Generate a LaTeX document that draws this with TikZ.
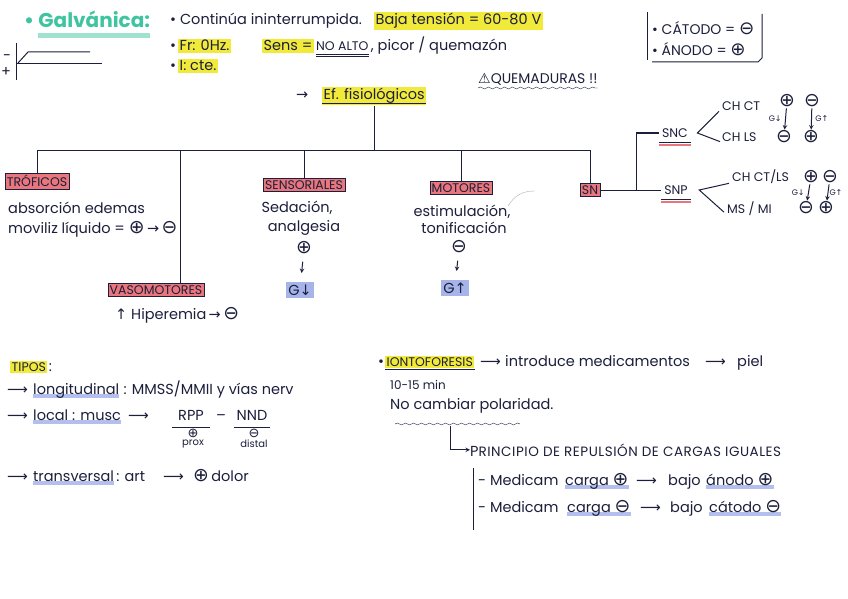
\documentclass[tikz,border=0pt]{standalone}
\usepackage{fontspec}
\setmainfont{Poppins}
\newfontfamily\symf{DejaVu Sans}
\newfontfamily\circf[Scale=1.3]{DejaVu Sans}
\usetikzlibrary{positioning,backgrounds,decorations.pathmorphing}
\definecolor{ink}{HTML}{1B1F3B}
\definecolor{yel}{HTML}{F2EA3A}
\definecolor{rosa}{HTML}{E8767C}
\definecolor{azul}{HTML}{A7B4EA}
\definecolor{verde}{HTML}{3FC4A0}
\newcommand\letra{\fontsize{14.5}{16}\selectfont}
\newcommand\chica{\fontsize{12.5}{14}\selectfont}
\newcommand\titulo{\fontsize{20}{22}\selectfont\bfseries}
\newcommand\mas{{\circf ⊕}}
\newcommand\menos{{\circf ⊖}}
\newcommand\flecha{{\symf ⟶}}
\newcommand\arriba{{\symf ↑}}
\newcommand\abajo{{\symf ↓}}
\begin{document}
\begin{tikzpicture}[x=1pt,y=-1pt,>=stealth,
    every node/.style={text=ink,font=\letra},
    txt/.style={anchor=base west,inner sep=0pt},
    amarillo/.style={fill=yel,inner sep=1.5pt},
    caja/.style={draw=ink,fill=rosa,inner sep=2pt,font=\chica},
    gbox/.style={fill=azul,inner sep=2.5pt},
    rama/.style={draw=ink,line width=1pt},
    subr/.style={azul,line width=4.5pt,opacity=.85},
    ola/.style={ink,decorate,decoration={snake,amplitude=1pt,segment length=8pt}}]
\begin{scope}[on background layer]
\fill[white] (0,0) rectangle (848,599);
\end{scope}
\useasboundingbox (0,0) rectangle (848,599);

% encabezado
\node[txt,font=\titulo,text=verde] (galv) at (24,28) {• Galvánica:};
\draw[verde!70,line width=5pt,opacity=.7] (38,36) -- (150,36);
\node[txt] (cont) at (170,25) {• Continúa ininterrumpida.};
\node[txt,amarillo] (baja) at (374,25) {Baja tensión = 60-80 V};
\node[txt] (b1) at (170,51) {•};
\node[txt,amarillo] (fr) at (178,51) {Fr: 0Hz.};
\node[txt,amarillo] (sensa) at (262,51) {Sens =};
\node[txt,font=\chica] (noalto) at (316,51) {NO ALTO};
\draw[ink,line width=.7pt] ([yshift=-3pt]noalto.base west) -- ([yshift=-3pt]noalto.base east);
\draw[ink,line width=.7pt] ([yshift=-5.5pt]noalto.base west) -- ([yshift=-5.5pt]noalto.base east);
\node[inner sep=0pt,base right=2pt of noalto] (picor) {, picor / quemazón};
\node[txt] (b2) at (170,71) {•};
\node[txt,amarillo] (cte) at (178,71) {I: cte.};

% signo de la corriente
\node (sgm) at (7,58) {-};
\node (sgp) at (6,72) {+};
\draw[rama] (16,43) -- (16,80);
\draw[rama] (18,63) -- (28,52) -- (90,52);
\draw[rama] (17,64) -- (102,64);

% leyenda
\node[txt,font=\fontsize{14}{16}\selectfont] (cat) at (652,35) {• CÁTODO = \menos};
\node[txt,font=\fontsize{14}{16}\selectfont] (ano) at (652,56) {• ÁNODO = \mas};
\draw[rama] (647,12) -- (647,60);
\draw[rama] (762,14) -- (762,58) -- (758,62) -- (652,62);

\node[txt,font=\fontsize{14}{16}\selectfont] (quem) at (478,84) {{\symf ⚠}QUEMADURAS !!};
\draw[ola] ([yshift=-4pt]quem.base west) -- ([yshift=-4pt]quem.base east);

% efectos fisiologicos
\node[txt] (fl) at (296,100) {{\symf →}};
\node[txt,amarillo] (efis) at (322,100) {Ef. fisiológicos};
\draw[ink] ([yshift=-3pt]efis.base west) -- ([yshift=-3pt]efis.base east);

\node[caja] (tro) at (37,181) {TRÓFICOS};
\node[caja] (vaso) at (156,290) {VASOMOTORES};
\node[caja] (senso) at (304,185) {SENSORIALES};
\node[caja] (mot) at (461,188) {MOTORES};
\node[caja] (sn) at (590,190) {SN};

\coordinate (h) at (0,150);
\draw[rama] (efis.south) -- (efis.south |- h);
\draw[rama] (tro.north) -- (tro.north |- h) -- (sn.north |- h) -- (sn.north);
\draw[rama] ([xshift=24pt]vaso.north) -- ([xshift=24pt]vaso.north |- h);
\foreach \n in {senso,mot}
    \draw[rama] (\n.north) -- (\n.north |- h);

\node[txt] (abs) at (8,213) {absorción edemas};
\node[txt] (movi) at (8,233) {moviliz líquido = \mas\,{\symf →}\,\menos};
\node[txt] (hip) at (115,319) {\arriba\ Hiperemia\,{\symf →}\,\menos};

\node[anchor=base] (seda) at (297,212) {Sedación,};
\node[anchor=base] (anal) at (304,231) {analgesia};
\node (sp) at (304,248) {\mas};
\node[gbox] (gs) at (300,290) {G\abajo};
\draw[->,rama,shorten <=4pt,shorten >=9pt] (sp) -- (gs);

\node[anchor=base] (esti) at (462,216) {estimulación,};
\node[anchor=base] (toni) at (464,233) {tonificación};
\draw[gray!60] (508,206) to[bend left=30] (535,191);
\node (mm) at (459,247) {\menos};
\node[gbox] (gm) at (455,288) {G\arriba};
\draw[->,rama,shorten <=4pt,shorten >=9pt] (mm) -- (gm);

% sistema nervioso
\node[font=\chica] (snc) at (675,133) {SNC};
\node[font=\chica] (snp) at (676,190) {SNP};
\coordinate (sj) at (636,190);
\draw[rama] (sn.east) -- (snp.west);
\draw[rama] (sj) |- (snc.west);
\foreach \s in {snc,snp} {
    \draw[ink] ([yshift=-1pt]\s.south west) -- ([yshift=-1pt]\s.south east);
    \draw[rosa,line width=2.5pt] ([yshift=-4pt]\s.south west) -- ([yshift=-4pt]\s.south east);
}
\node[txt,font=\chica] (chct) at (722,111) {CH CT};
\node[txt,font=\chica] (chls) at (722,142) {CH LS};
\draw[rama] ([xshift=-3pt]chct.south west) -- ([xshift=6pt]snc.east) -- ([xshift=-2pt,yshift=-4pt]chls.west);
\node[txt,font=\chica] (chctls) at (732,181) {CH CT/LS};
\node[txt,font=\chica] (msmi) at (727,213) {MS / MI};
\draw[rama] ([xshift=-3pt]chctls.south west) -- ([xshift=8pt]snp.east) -- ([xshift=-3pt,yshift=-4pt]msmi.west);

\node[inner sep=1pt] (p1) at (787,101) {\mas};
\node[inner sep=1pt] (m1) at (784,137) {\menos};
\node[inner sep=1pt] (m2) at (812,101) {\menos};
\node[inner sep=1pt] (p2) at (811,137) {\mas};
\draw[->,rama] (p1) -- (m1) node[midway,left,font=\footnotesize] {G\abajo};
\draw[->,rama] (m2) -- (p2) node[midway,right,font=\footnotesize] {G\arriba};
\node[inner sep=1pt] (p3) at (811,177) {\mas};
\node[inner sep=1pt] (m3) at (806,208) {\menos};
\node[inner sep=1pt] (m4) at (830,177) {\menos};
\node[inner sep=1pt] (p4) at (826,208) {\mas};
\draw[->,rama] (p3) -- (m3) node[midway,left,font=\footnotesize] {G\abajo};
\draw[->,rama] (m4) -- (p4) node[midway,right,font=\footnotesize,inner sep=1pt] {G\arriba};

% tipos
\node[txt,amarillo,font=\chica] (tipos) at (10,371) {TIPOS};
\node[inner sep=0pt,base right=1pt of tipos] (dp) {:};
\node[txt] (f1) at (7,394) {\flecha};
\node[txt] (longi) at (33,394) {longitudinal};
\node[inner sep=0pt,base right=4pt of longi] (mmss) {: MMSS/MMII y vías nerv};
\node[txt] (f2) at (7,420) {\flecha};
\node[txt] (loc) at (33,420) {local : musc};
\node[txt] (f3) at (128,420) {\flecha};
\node[anchor=base] (rpp) at (191,420) {RPP};
\node[anchor=base] (guion) at (221,420) {–};
\node[anchor=base] (nnd) at (252,420) {NND};
\draw[rama] (172,427) -- (210,427);
\draw[rama] (234,427) -- (270,427);
\node[font=\fontsize{10}{10}\selectfont,inner sep=0pt] (pxs) at (193,433) {\mas};
\node[font=\fontsize{10}{10}\selectfont,inner sep=0pt,below=2.5pt of pxs] (prox) {prox};
\node[font=\fontsize{10}{10}\selectfont,inner sep=0pt] (dsm) at (254,433) {\menos};
\node[font=\fontsize{10}{10}\selectfont,inner sep=0pt,below=2.5pt of dsm] (dist) {distal};
\node[txt] (f4) at (7,481) {\flecha};
\node[txt] (trans) at (33,481) {transversal};
\node[inner sep=0pt,base right=2pt of trans] (art) {: art};
\node[txt] (f5) at (163,481) {\flecha};
\node[txt] (dolor) at (193,481) {\mas\,dolor};

% iontoforesis
\node[txt] (b3) at (378,366) {•};
\node[txt,amarillo,font=\chica] (ionto) at (385,366) {IONTOFORESIS};
\draw[ink] ([yshift=-3pt]ionto.base west) -- ([yshift=-3pt]ionto.base east);
\node[txt] (f6) at (480,366) {\flecha};
\node[txt] (intro) at (505,366) {introduce medicamentos};
\node[txt] (f7) at (705,366) {\flecha};
\node[txt] (piel) at (737,366) {piel};
\node[txt,font=\fontsize{12}{14}\selectfont] (min) at (390,389) {10-15 min};
\node[txt] (pol) at (390,409) {No cambiar polaridad.};
\draw[ola] (395,424) -- (520,424);
\coordinate (ola0) at (450,426);
\node[txt,font=\fontsize{13.5}{15}\selectfont\addfontfeature{LetterSpace=4}] (prin) at (470,456) {{\letra P}RINCIPIO DE REPULSIÓN DE CARGAS IGUALES};
\draw[rama,->] (ola0) |- (prin.west);
\draw[rama] (473,468) -- (473,530);
\node[txt] (med1) at (478,485) {- Medicam};
\node[txt] (car1) at (565,485) {carga \mas};
\node[txt] (f8) at (636,485) {\flecha};
\node[txt] (bajo1) at (668,485) {bajo};
\node[txt] (ano1) at (706,485) {ánodo \mas};
\node[txt] (med2) at (478,512) {- Medicam};
\node[txt] (car2) at (567,512) {carga \menos};
\node[txt] (f9) at (640,512) {\flecha};
\node[txt] (bajo2) at (670,512) {bajo};
\node[txt] (cat2) at (709,512) {cátodo \menos};

\begin{scope}[on background layer]
\foreach \t in {longi,loc,trans,car1,ano1,car2,cat2}
    \draw[subr] ([yshift=-2pt]\t.base west) -- ([yshift=-2pt]\t.base east);
\end{scope}
\end{tikzpicture}
\end{document}
